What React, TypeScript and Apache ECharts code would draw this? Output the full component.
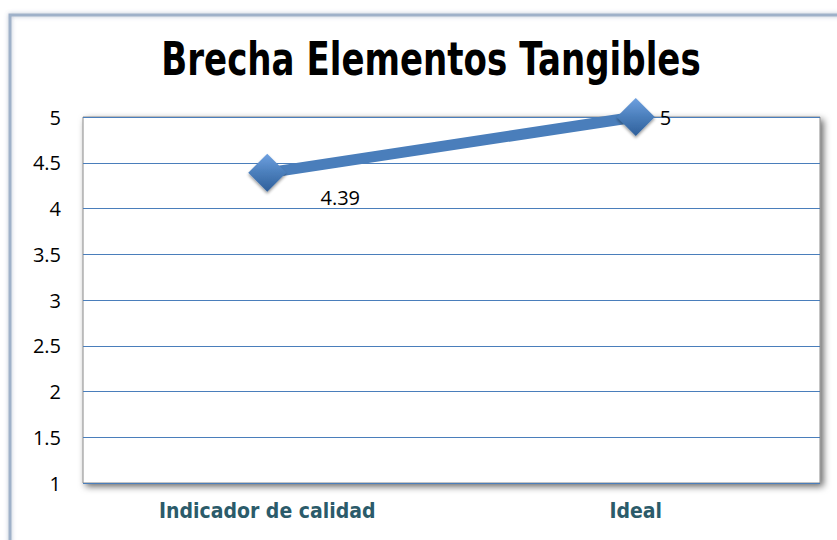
import React, { useEffect, useRef } from "react";
import * as echarts from "echarts";

const titleText = "Brecha Elementos Tangibles";
const categories = ["Indicador de calidad", "Ideal"];
const values = [4.39, 5];
const yMin = 1;
const yMax = 5;
const yInterval = 0.5;

export default function App() {
  const ref = useRef<HTMLDivElement>(null);
  useEffect(() => {
    if (!ref.current) return;
    const chart = echarts.init(ref.current, null, { renderer: "svg" });
    const narrow = "'DejaVu Sans Condensed', 'DejaVu Sans', sans-serif";
    chart.setOption({
      animation: false,
      backgroundColor: "#ffffff",
      graphic: [
        {
          type: "rect",
          shape: { x: 10, y: 15, width: 900, height: 600 },
          style: { fill: "transparent", stroke: "#9fb1c9", lineWidth: 3, shadowBlur: 4, shadowColor: "rgba(80,100,140,0.4)" },
          z: -1,
        },
        {
          type: "text",
          x: 431,
          y: 59,
          scaleX: 0.725,
          style: {
            text: titleText,
            fontFamily: "'DejaVu Sans', sans-serif",
            fontWeight: "bold",
            fontSize: 47,
            fill: "#000000",
            align: "center",
            verticalAlign: "middle",
          },
        },
      ],
      grid: {
        left: 83,
        right: 17,
        top: 117,
        bottom: 57,
        show: true,
        backgroundColor: "#ffffff",
        borderColor: "#8a8a8a",
        borderWidth: 1,
        shadowColor: "rgba(0,0,0,0.6)",
        shadowBlur: 7,
        shadowOffsetX: 3,
        shadowOffsetY: 3,
      },
      xAxis: {
        type: "category",
        data: categories,
        boundaryGap: true,
        axisLine: { show: false },
        axisTick: { show: false },
        axisLabel: {
          margin: 17,
          fontFamily: narrow,
          fontWeight: "bold",
          fontSize: 21,
          color: "#2b5b6a",
        },
      },
      yAxis: {
        type: "value",
        min: yMin,
        max: yMax,
        interval: yInterval,
        axisLine: { show: false },
        axisTick: { show: false },
        axisLabel: {
          margin: 22,
          fontFamily: "'Open Sans', sans-serif",
          fontSize: 20,
          color: "#000000",
        },
        splitLine: { lineStyle: { color: "#4a7ebb", width: 1.2 } },
      },
      series: [
        {
          type: "line",
          data: [
            {
              value: values[0],
              label: { show: true, position: "bottom", offset: [73, -9] },
            },
            {
              value: values[1],
              label: { show: true, position: "right", offset: [0, 0] },
            },
          ],
          symbol: "diamond",
          symbolSize: 38,
          lineStyle: { color: "#4a7ebb", width: 11 },
          itemStyle: {
            color: new echarts.graphic.LinearGradient(0, 0, 0, 1, [
              { offset: 0, color: "#6ea0e0" },
              { offset: 0.5, color: "#4a7ebb" },
              { offset: 1, color: "#2f5f9a" },
            ]),
            shadowColor: "rgba(0,0,0,0.4)",
            shadowBlur: 3,
            shadowOffsetY: 2,
          },
          label: {
            fontFamily: "'Open Sans', sans-serif",
            fontSize: 20,
            color: "#000000",
          },
        },
      ],
    });
    return () => chart.dispose();
  }, []);
  return <div ref={ref} style={{ position: "fixed", left: 0, top: 0, width: 837, height: 540 }} />;
}
